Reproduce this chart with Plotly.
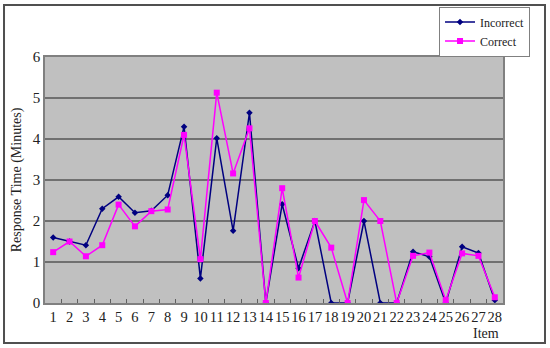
import plotly.graph_objects as go

items = [str(i) for i in range(1, 29)]
incorrect = [1.60, 1.50, 1.41, 2.30, 2.59, 2.20, 2.25, 2.63, 4.30, 0.60,
             4.02, 1.76, 4.64, 0.0, 2.41, 0.85, 2.00, 0.0, 0.0, 2.00,
             0.0, 0.0, 1.25, 1.13, 0.0, 1.37, 1.22, 0.07]
correct = [1.24, 1.50, 1.14, 1.41, 2.40, 1.87, 2.24, 2.28, 4.10, 1.07,
           5.13, 3.16, 4.26, 0.0, 2.80, 0.62, 2.00, 1.35, 0.0, 2.51,
           2.00, 0.0, 1.15, 1.23, 0.07, 1.21, 1.15, 0.14]

FONT = "Liberation Serif, Times New Roman, serif"

fig = go.Figure()
fig.add_trace(go.Scatter(
    x=items, y=incorrect, name="Incorrect", mode="lines+markers",
    line=dict(color="#000080", width=1.5),
    marker=dict(symbol="diamond", size=5, color="#000080"),
))
fig.add_trace(go.Scatter(
    x=items, y=correct, name="Correct", mode="lines+markers",
    line=dict(color="#FF00FF", width=1.5),
    marker=dict(symbol="square", size=6, color="#FF00FF"),
))

fig.update_layout(
    width=550, height=348,
    margin=dict(l=45, r=47, t=57, b=45, autoexpand=False),
    paper_bgcolor="white",
    plot_bgcolor="#C0C0C0",
    font=dict(family=FONT, size=15, color="#222222"),
    legend=dict(
        x=1.059, y=1.205, xanchor="right", yanchor="top",
        bgcolor="white", bordercolor="#808080", borderwidth=1,
        font=dict(size=12, family=FONT), tracegroupgap=0,
        itemwidth=30,
    ),
    xaxis=dict(
        type="category", showgrid=False, zeroline=False,
        showline=True, linecolor="#808080", linewidth=1.5, mirror=True,
        ticks="inside", ticklen=4, tickcolor="#606060",
        tickson="boundaries", tickfont=dict(size=14.5), tickangle=0,
        tickmode="array", tickvals=items, ticktext=items,
        range=[-0.5, 27.5],
    ),
    yaxis=dict(
        range=[0, 6], dtick=1, showgrid=True, gridcolor="#707070", gridwidth=1.5,
        zeroline=False, showline=True, linecolor="#808080", linewidth=1.5, mirror=True,
        ticks="", tickfont=dict(size=15),
        title=dict(text="Response Time (Minutes)", font=dict(size=14), standoff=8),
    ),
    shapes=[dict(
        type="rect", xref="paper", yref="paper",
        x0=-0.0895, x1=1.0917, y0=-0.1626, y1=1.2114,
        line=dict(color="#505050", width=2), fillcolor="rgba(0,0,0,0)", layer="below",
    )],
    annotations=[dict(
        text="Item", xref="paper", yref="paper", x=0.963, y=-0.126,
        xanchor="center", yanchor="middle", showarrow=False,
        font=dict(size=14, family=FONT),
    )],
)

# page body has a default 8px margin; drop it so the figure sits at 0,0
fig.write_html("out.html", config={"displayModeBar": False},
               post_script="document.body.style.margin='0';")
